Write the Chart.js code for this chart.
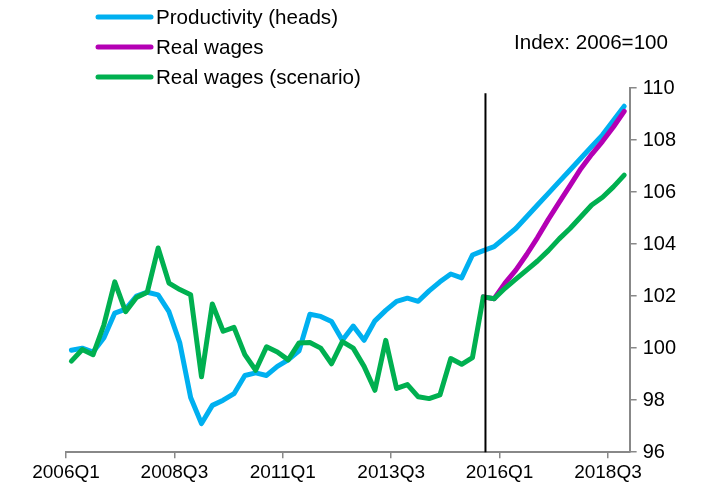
<!DOCTYPE html>
<html>
<head>
<meta charset="utf-8">
<script src="https://cdn.jsdelivr.net/npm/chart.js@4.4.1/dist/chart.umd.min.js"></script>
<style>
  html, body { margin: 0; padding: 0; background: #fff; }
  #wrap { width: 702px; height: 488px; position: relative; }
</style>
</head>
<body>
<div id="wrap"><canvas id="chart" width="702" height="488"></canvas></div>
<script>
// quarterly categories, 2006Q1 .. 2018Q4
const quarters = [];
for (let y = 2006; y <= 2018; y++) {
    for (let q = 1; q <= 4; q++) quarters.push(y + 'Q' + q);
}

const productivity = [
    99.92, 100.0, 99.85, 100.4, 101.35, 101.5, 102.0, 102.15, 102.05, 101.4,
    100.2, 98.1, 97.1, 97.8, 98.0, 98.25, 98.95, 99.05, 98.95, 99.3,
    99.55, 99.9, 101.3, 101.22, 101.02, 100.3, 100.85, 100.3, 101.05, 101.45,
    101.8, 101.92, 101.8, 102.2, 102.55, 102.85, 102.7, 103.58, 103.75, 103.9,
    104.25, 104.6, 105.05, 105.5, 105.95, 106.4, 106.85, 107.3, 107.75, 108.2, 108.75, 109.3
];

const realWages = [
    null, null, null, null, null, null, null, null, null, null,
    null, null, null, null, null, null, null, null, null, null,
    null, null, null, null, null, null, null, null, null, null,
    null, null, null, null, null, null, null, null, 101.97, 101.9,
    102.5, 103.0, 103.6, 104.25, 104.95, 105.6, 106.25, 106.9, 107.45, 107.95, 108.5, 109.1
];

const realWagesScenario = [
    99.5, 99.95, 99.75, 100.9, 102.55, 101.4, 101.95, 102.15, 103.85, 102.5,
    102.25, 102.05, 98.9, 101.7, 100.65, 100.8, 99.75, 99.15, 100.05, 99.85,
    99.55, 100.2, 100.22, 100.0, 99.4, 100.25, 100.0, 99.3, 98.38, 100.3,
    98.45, 98.6, 98.13, 98.06, 98.2, 99.6, 99.38, 99.64, 101.97, 101.9,
    102.3, 102.65, 103.0, 103.35, 103.75, 104.2, 104.6, 105.05, 105.5, 105.8, 106.2, 106.65
];

const yTicks = [96, 98, 100, 102, 104, 106, 108, 110];
const splitAt = 38.7;   // forecast start marker, in quarters from 2006Q1
const FONT = 'Arial, "Liberation Sans", sans-serif';
const AXIS_GREY = '#888888';

// each quarter sits in the middle of its slot: x = index + 0.5
function toPoints(values) {
    return values.map((v, i) => ({ x: i + 0.5, y: v }));
}

const series = [
    { label: 'Productivity (heads)', data: productivity, color: '#00B0F0', order: 2 },
    { label: 'Real wages', data: realWages, color: '#B400B4', order: 1 },
    { label: 'Real wages (scenario)', data: realWagesScenario, color: '#00B050', order: 0 }
];

// legend + note drawn in the top-left / top-right corner
const cornerLegend = {
    id: 'cornerLegend',
    afterDraw(chart) {
        const ctx = chart.ctx;
        ctx.save();
        ctx.font = '20.6px ' + FONT;
        ctx.textBaseline = 'middle';
        chart.data.datasets.forEach((ds, i) => {
            const y = 17 + i * 30;
            ctx.strokeStyle = ds.borderColor;
            ctx.lineWidth = 5;
            ctx.lineCap = 'round';
            ctx.beginPath();
            ctx.moveTo(98, y);
            ctx.lineTo(151, y);
            ctx.stroke();
            ctx.fillStyle = '#000';
            ctx.textAlign = 'left';
            ctx.fillText(ds.label, 156, y + 1);
        });
        ctx.textAlign = 'right';
        ctx.fillText('Index: 2006=100', 668, 43);
        ctx.restore();
    }
};

// vertical black line where the scenario starts
const splitLine = {
    id: 'splitLine',
    afterDatasetsDraw(chart) {
        const { ctx, scales } = chart;
        const x = scales.x.getPixelForValue(splitAt);
        ctx.save();
        ctx.strokeStyle = '#000';
        ctx.lineWidth = 2;
        ctx.beginPath();
        ctx.moveTo(x, scales.y.getPixelForValue(109.8));
        ctx.lineTo(x, scales.y.getPixelForValue(96));
        ctx.stroke();
        ctx.restore();
    }
};

new Chart(document.getElementById('chart'), {
    type: 'line',
    data: {
        datasets: series.map(s => ({
            label: s.label,
            data: toPoints(s.data),
            borderColor: s.color,
            backgroundColor: s.color,
            borderWidth: 5,
            borderJoinStyle: 'round',
            borderCapStyle: 'round',
            pointRadius: 0,
            tension: 0,
            spanGaps: false,
            order: s.order
        }))
    },
    options: {
        responsive: false,
        animation: false,
        layout: { padding: { left: 66, right: 20, top: 88, bottom: 1 } },
        plugins: {
            legend: { display: false },
            tooltip: { enabled: false }
        },
        scales: {
            x: {
                type: 'linear',
                min: 0,
                max: quarters.length,
                grid: { drawOnChartArea: false, tickLength: 6, color: AXIS_GREY, lineWidth: 1.5 },
                border: { color: AXIS_GREY, width: 2 },
                ticks: {
                    stepSize: 10,
                    includeBounds: false,
                    autoSkip: false,
                    maxRotation: 0,
                    padding: 3,
                    color: '#000',
                    font: { family: FONT, size: 19 },
                    callback: v => quarters[v] || ''
                }
            },
            y: {
                position: 'right',
                min: yTicks[0],
                max: yTicks[yTicks.length - 1],
                afterBuildTicks: axis => { axis.ticks = yTicks.map(v => ({ value: v })); },
                grid: { drawOnChartArea: false, tickLength: 7, color: AXIS_GREY, lineWidth: 1.5 },
                border: { color: AXIS_GREY, width: 2 },
                ticks: {
                    padding: 6,
                    color: '#000',
                    font: { family: FONT, size: 20 }
                }
            }
        }
    },
    plugins: [splitLine, cornerLegend]
});
</script>
</body>
</html>
